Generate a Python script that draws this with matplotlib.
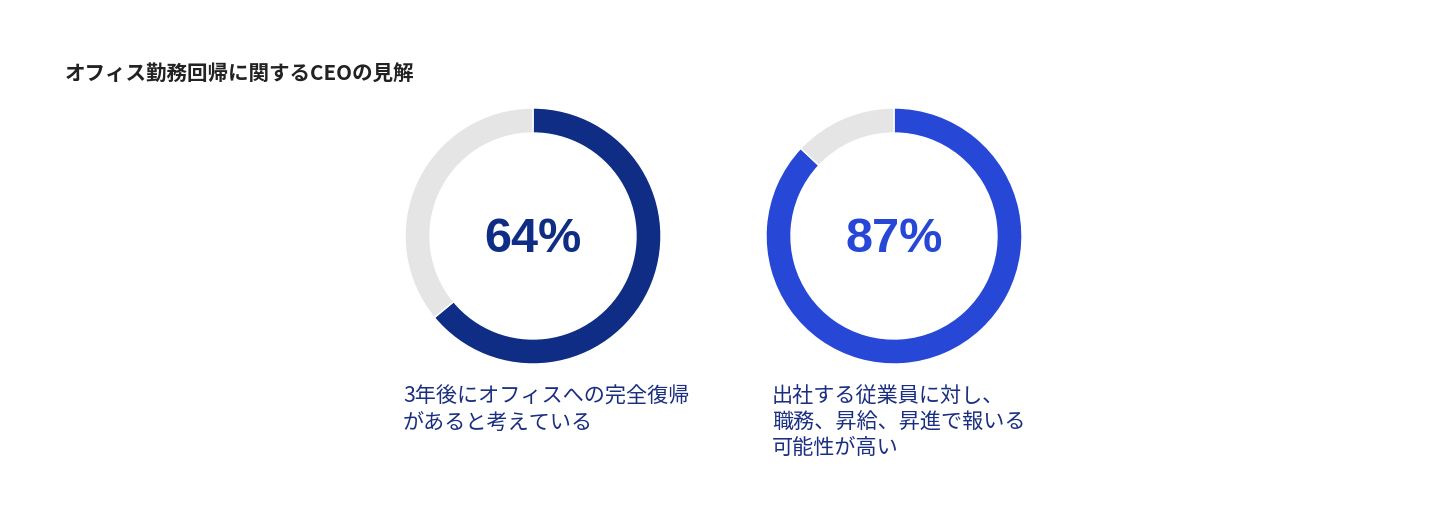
import matplotlib.pyplot as plt

plt.rcParams['font.family'] = ['Noto Sans CJK JP', 'DejaVu Sans']

title = 'オフィス勤務回帰に関するCEOの見解'
values = [64, 87]
value_labels = ['64%', '87%']
captions = ['3年後にオフィスへの完全復帰\nがあると考えている',
            '出社する従業員に対し、\n職務、昇給、昇進で報いる\n可能性が高い']
colors = ['#0F2D84', '#2747D6']
rest_color = '#E5E5E5'

W, H = 1450, 512
fig = plt.figure(figsize=(W / 100, H / 100), dpi=100)
ax = fig.add_axes([0, 0, 1, 1])

centers_x = [533, 894]
caption_x = [403, 772]
cy = H - 236
radius = 128
ring = 25

for i, v in enumerate(values):
    ax.pie([v, 100 - v], colors=[colors[i], rest_color], startangle=90,
           counterclock=False, center=(centers_x[i], cy), radius=radius,
           wedgeprops=dict(width=ring, edgecolor='white', linewidth=1))
    ax.text(centers_x[i], cy - 3, value_labels[i], ha='center', va='center',
            fontsize=35, fontweight='bold', color=colors[i],
            family=['Liberation Sans', 'DejaVu Sans'])
    ax.text(caption_x[i], H - 386, captions[i], ha='left', va='top',
            fontsize=15.2, color='#1B2F80', linespacing=1.22)

ax.text(65, H - 74, title, ha='left', va='center', fontsize=14.8,
        fontweight='bold', color='#222222')

ax.set_xlim(0, W)
ax.set_ylim(0, H)
ax.set_aspect('auto')
ax.axis('off')

fig.savefig('out.png', dpi=100, facecolor='white')
